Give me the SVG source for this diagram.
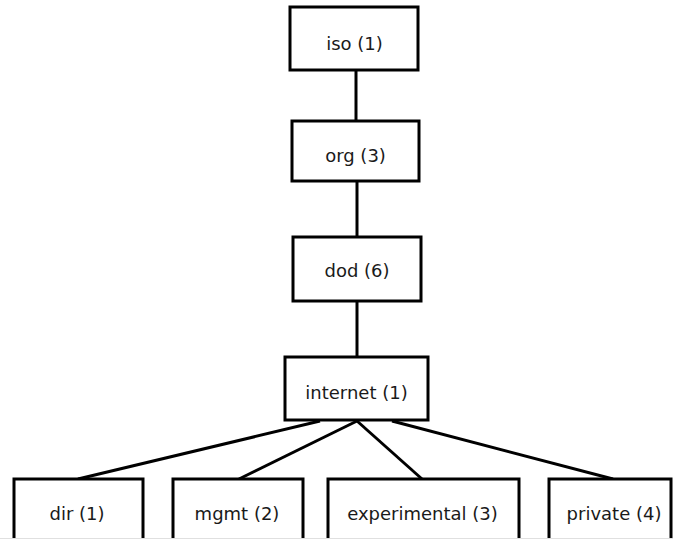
<svg xmlns="http://www.w3.org/2000/svg" width="673" height="539" viewBox="0 0 673 539">
<style>
.box{fill:#fff;stroke:#000;stroke-width:3}
.lbl{font-family:"DejaVu Sans",Verdana,sans-serif;font-size:18px;fill:#1a1a1a;text-anchor:middle}
.con{stroke:#000;stroke-width:3;fill:none}
</style>
<rect width="673" height="539" fill="#fff"/>
<g id="connectors">
<line class="con" x1="356" y1="70" x2="356" y2="121"/>
<line class="con" x1="357" y1="181" x2="357" y2="237"/>
<line class="con" x1="357" y1="301" x2="357" y2="357"/>
<line class="con" x1="320" y1="421" x2="78" y2="479"/>
<line class="con" x1="357" y1="421" x2="239" y2="479"/>
<line class="con" x1="357" y1="421" x2="422" y2="479"/>
<line class="con" x1="392" y1="421" x2="613" y2="479"/>
</g>
<g id="iso"><rect class="box" x="290" y="7" width="128" height="63"/><text class="lbl" x="354.5" y="50">iso (1)</text></g>
<g id="org"><rect class="box" x="292" y="121" width="127" height="60"/><text class="lbl" x="355.5" y="162">org (3)</text></g>
<g id="dod"><rect class="box" x="293" y="237" width="128" height="64"/><text class="lbl" x="357" y="277">dod (6)</text></g>
<g id="internet"><rect class="box" x="285" y="357" width="143" height="63"/><text class="lbl" x="356.5" y="399">internet (1)</text></g>
<g id="dir"><rect class="box" x="14" y="479" width="129" height="75"/><text class="lbl" x="77" y="520">dir (1)</text></g>
<g id="mgmt"><rect class="box" x="173" y="479" width="130" height="75"/><text class="lbl" x="237" y="520">mgmt (2)</text></g>
<g id="experimental"><rect class="box" x="328" y="479" width="191" height="75"/><text class="lbl" x="422.5" y="520">experimental (3)</text></g>
<g id="private"><rect class="box" x="549" y="479" width="122" height="75"/><text class="lbl" x="614" y="520">private (4)</text></g>
<line x1="0" y1="538.5" x2="673" y2="538.5" stroke="#e0e0e0" stroke-width="1"/>
</svg>
